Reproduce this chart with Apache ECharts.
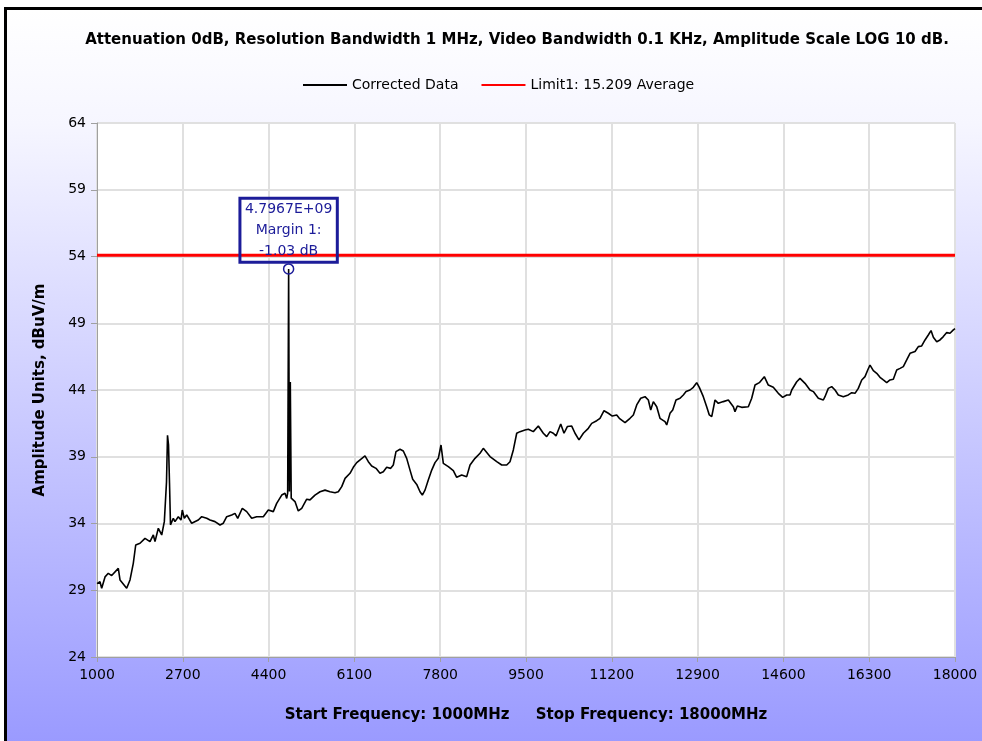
<!DOCTYPE html>
<html>
<head>
<meta charset="utf-8">
<script src="https://cdn.jsdelivr.net/npm/echarts@6/dist/echarts.min.js"></script>
<style>
  html, body { margin: 0; padding: 0; background: #fff; overflow: hidden; }
  #frame {
    position: absolute; left: 4px; top: 7px; width: 1010px; height: 760px;
    border-left: 3px solid #000; border-top: 3px solid #000;
    background: linear-gradient(to bottom, #ffffff 0%, #f6f6ff 15%, #9696ff 100%);
  }
  #chart { position: absolute; left: 0; top: 0; width: 982px; height: 741px; }
</style>
</head>
<body>
<div id="frame"></div>
<div id="chart"></div>
<script>
// 频率 (MHz) 与幅度 (dBuV/m)
var freqs = [1000,1059,1093,1159,1224,1291,1422,1456,1588,1654,1719,1767,1852,1951,2050,2116,2149,2215,2282,2334,
  2367,2377,2397,2417,2437,2456,2512,2545,2611,2664,2690,2730,2777,2876,3007,3075,3174,3239,3338,3437,
  3503,3570,3669,3734,3788,3879,3966,4065,4164,4295,4394,4428,4493,4560,4660,4725,4759,4778,4797,4812,
  4830,4848,4923,4988,5056,5155,5220,5319,5419,5518,5617,5716,5781,5849,5915,6013,6078,6146,6225,6310,
  6376,6443,6528,6607,6673,6740,6819,6871,6924,7004,7069,7136,7202,7255,7335,7400,7446,7499,7564,7632,
  7697,7763,7816,7862,7961,8060,8127,8226,8325,8391,8490,8589,8654,8787,8920,9019,9118,9183,9249,9316,
  9381,9480,9546,9645,9744,9843,9910,9976,10041,10095,10188,10253,10319,10406,10471,10550,10636,10735,10802,10901,
  10966,11046,11131,11210,11297,11349,11462,11561,11627,11694,11773,11858,11924,11971,12023,12090,12155,12254,12288,12353,
  12407,12472,12552,12617,12671,12750,12815,12882,12934,13013,13080,13132,13180,13245,13310,13410,13509,13608,13641,13687,
  13774,13905,13972,14038,14123,14222,14301,14400,14499,14586,14666,14731,14765,14864,14929,15028,15127,15193,15292,15391,
  15424,15490,15557,15623,15688,15787,15886,15954,16019,16084,16152,16217,16271,16316,16382,16449,16514,16580,16647,16712,
  16778,16845,16911,16976,17043,17109,17208,17273,17340,17406,17471,17525,17571,17638,17703,17769,17836,17901,17967,18000];
var amps = [29.5,29.64,29.15,30.0,30.27,30.1,30.64,29.77,29.15,29.77,31.02,32.39,32.52,32.89,32.64,33.14,32.64,33.64,33.14,34.14,
  34.02,37.1,40.6,39.9,37.0,33.9,34.39,34.14,34.51,34.26,35.01,34.39,34.64,34.02,34.26,34.51,34.39,34.26,34.14,33.89,
  34.02,34.51,34.64,34.76,34.39,35.14,34.89,34.39,34.51,34.51,35.01,35.14,34.89,35.51,36.13,36.26,35.88,36.3,53.07,36.4,
  44.6,35.9,35.64,34.94,35.14,35.82,35.77,36.13,36.38,36.5,36.38,36.3,36.38,36.76,37.38,37.76,38.21,38.56,38.81,39.06,
  38.63,38.31,38.13,37.76,37.88,38.21,38.13,38.38,39.38,39.56,39.43,38.88,38.0,37.31,36.93,36.38,36.13,36.5,37.26,38.0,
  38.56,38.88,39.88,38.5,38.26,37.96,37.46,37.63,37.51,38.38,38.88,39.26,39.63,39.01,38.63,38.38,38.38,38.63,39.51,40.76,
  40.88,41.0,41.06,40.88,41.3,40.76,40.51,40.88,40.76,40.56,41.45,40.76,41.26,41.3,40.76,40.26,40.76,41.13,41.5,41.7,
  41.88,42.45,42.26,42.05,42.13,41.88,41.55,41.88,42.13,42.88,43.38,43.5,43.25,42.5,43.13,42.75,41.88,41.63,41.38,42.25,
  42.5,43.25,43.38,43.63,43.88,44.0,44.2,44.55,44.2,43.5,42.75,42.13,42.0,43.25,43.0,43.13,43.25,42.75,42.38,42.8,
  42.7,42.75,43.38,44.37,44.55,45.0,44.37,44.2,43.75,43.45,43.63,43.63,44.0,44.62,44.87,44.5,44.0,43.88,43.38,43.25,
  43.5,44.12,44.25,44.0,43.63,43.5,43.63,43.8,43.75,44.12,44.75,45.0,45.5,45.87,45.45,45.25,44.95,44.75,44.55,44.75,
  44.8,45.5,45.62,45.75,46.25,46.75,46.88,47.25,47.3,47.75,48.12,48.45,47.95,47.62,47.75,48.0,48.3,48.25,48.5,48.6];
// 限值线
var limitFreqs = [1000, 18000];
var limitVals = [54.1, 54.1];
// 峰值标注
var peakFreq = 4796.7;
var peakVal = 53.07;
var peakText = ['4.7967E+09', 'Margin 1:', '-1.03 dB'];

var fStart = 1000, fStop = 18000, fStep = 1700;
var aMin = 24, aMax = 64, aStep = 5;

var chart = echarts.init(document.getElementById('chart'));
var font = 'DejaVu Sans, Verdana, sans-serif';

var option = {
  backgroundColor: 'transparent',
  animation: false,
  textStyle: { fontFamily: font },
  title: {
    text: 'Attenuation 0dB, Resolution Bandwidth 1 MHz, Video Bandwidth 0.1 KHz, Amplitude Scale LOG 10 dB.',
    left: 512, top: 28, textAlign: 'center',
    textStyle: { fontSize: 15, fontWeight: 'bold', color: '#000', fontFamily: font }
  },
  legend: {
    left: 297, top: 73,
    itemWidth: 44, itemHeight: 10, itemGap: 22,
    itemStyle: { opacity: 0 },
    textStyle: { fontSize: 14, color: '#000', fontFamily: font },
    data: ['Corrected Data', 'Limit1: 15.209 Average']
  },
  grid: {
    left: 97, right: 27, top: 123, bottom: 84,
    show: true, backgroundColor: '#fff', borderWidth: 0
  },
  xAxis: {
    type: 'value',
    min: 0, max: fStop - fStart, interval: fStep,
    name: 'Start Frequency: 1000MHz     Stop Frequency: 18000MHz',
    nameLocation: 'middle', nameGap: 51,
    nameTextStyle: { fontSize: 15, fontWeight: 'bold', color: '#000' },
    axisLine: { show: true, onZero: false, lineStyle: { color: '#a0a0a0' } },
    axisTick: { show: true, length: 5, lineStyle: { color: '#a0a0a0' } },
    axisLabel: { fontSize: 14, color: '#000', margin: 11, formatter: function (v) { return v + fStart; } },
    splitLine: { show: true, lineStyle: { color: '#e0e0e0', width: 2 } }
  },
  yAxis: {
    type: 'value',
    min: 0, max: aMax - aMin, interval: aStep,
    name: 'Amplitude Units, dBuV/m',
    nameLocation: 'middle', nameGap: 49,
    nameTextStyle: { fontSize: 15, fontWeight: 'bold', color: '#000' },
    axisLine: { show: true, onZero: false, lineStyle: { color: '#a0a0a0' } },
    axisTick: { show: true, length: 6, lineStyle: { color: '#a0a0a0' } },
    axisLabel: { fontSize: 14, color: '#000', margin: 11, formatter: function (v) { return v + aMin; } },
    splitLine: { show: true, lineStyle: { color: '#e0e0e0', width: 2 } }
  },
  series: [
    {
      name: 'Corrected Data',
      type: 'line',
      symbol: 'none',
      lineStyle: { color: '#000', width: 1.6 },
      itemStyle: { color: '#000' },
      data: freqs.map(function (f, i) { return [f - fStart, amps[i] - aMin]; }),
      markPoint: {
        symbol: 'circle',
        symbolSize: 10,
        data: [{
          coord: [peakFreq - fStart, peakVal - aMin],
          itemStyle: { color: 'rgba(0,0,0,0)', borderColor: '#1c1c99', borderWidth: 1.5 },
          label: {
            show: true, position: 'top', distance: 1,
            formatter: peakText.join('\n'),
            color: '#1c1c99', fontSize: 14, lineHeight: 21,
            borderColor: '#1c1c99', borderWidth: 1.5, padding: [1, 5, 0, 5],
            backgroundColor: 'rgba(0,0,0,0)'
          }
        }]
      },
      z: 3
    },
    {
      name: 'Limit1: 15.209 Average',
      type: 'line',
      symbol: 'none',
      lineStyle: { color: '#ff0000', width: 3 },
      itemStyle: { color: '#ff0000' },
      data: limitFreqs.map(function (f, i) { return [f - fStart, limitVals[i] - aMin]; }),
      z: 2
    }
  ]
};
chart.setOption(option);
</script>
</body>
</html>
